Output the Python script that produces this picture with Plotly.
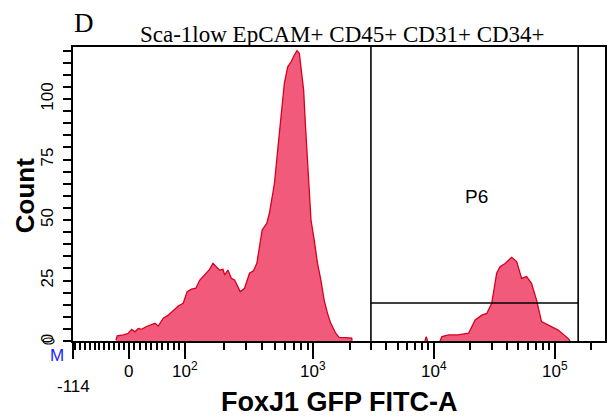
import numpy as np
import plotly.graph_objects as go

# ---------------- data ----------------
# histogram: x in display decades of the biexponential FITC-A axis
pop1_pos = [1.362, 1.373, 1.424, 1.465, 1.493, 1.520, 1.548, 1.575, 1.611, 1.644, 1.686, 1.713,
            1.755, 1.796, 1.837, 1.879, 1.920, 1.953, 1.989, 2.025, 2.058, 2.084, 2.112, 2.139,
            2.167, 2.195, 2.222, 2.250, 2.264, 2.291, 2.319, 2.346, 2.374, 2.393, 2.429, 2.470,
            2.503, 2.531, 2.553, 2.575, 2.613, 2.635, 2.663, 2.677, 2.704, 2.732, 2.759, 2.787,
            2.815, 2.842, 2.864, 2.883, 2.902, 2.919, 2.933, 2.947, 2.960, 2.980, 3.007, 3.034,
            3.062, 3.089, 3.117, 3.144, 3.185, 3.213, 3.268, 3.318, 3.320]
pop1_count = [0.4, 2.1, 2.5, 3.2, 4.8, 3.8, 5.2, 4.8, 5.9, 6.6, 7.3, 6.2,
              9.4, 10.7, 12.8, 14.5, 15.6, 20.4, 21.4, 21.8, 25.2, 26.6, 27.7, 29.6,
              32.1, 30.5, 29.3, 29.6, 27.3, 29.3, 25.9, 25.2, 22.4, 20.4, 21.8, 28.0,
              29.0, 32.1, 39.0, 45.9, 48.6, 52.8, 61.0, 65.2, 79.0, 92.7, 106.5, 113.3,
              115.4, 118.2, 120.0, 118.9, 110.6, 103.7, 90.0, 79.0, 65.2, 50.0, 41.7, 32.1,
              25.2, 16.9, 11.4, 7.3, 3.2, 1.5, 1.4, 1.2, 0.0]

spike_pos = [3.925, 3.936, 3.947]
spike_count = [0.0, 1.8, 0.0]

pop2_pos = [4.050, 4.066, 4.122, 4.200, 4.287, 4.342, 4.397, 4.438, 4.479, 4.520, 4.548,
            4.590, 4.644, 4.686, 4.727, 4.768, 4.809, 4.851, 4.892, 4.947, 5.030, 5.112, 5.129]
pop2_count = [0.0, 1.8, 2.5, 2.5, 3.2, 8.7, 10.7, 11.4, 15.6, 28.0, 30.7,
              32.0, 34.6, 32.8, 25.9, 26.6, 23.8, 16.9, 8.0, 6.6, 4.5, 1.1, 0.0]

# axis ticks (FITC-A values)
x_major = [-114, 0, 100, 1000, 10000, 100000]
x_major_text = ["-114", "0", "10<sup>2</sup>", "10<sup>3</sup>", "10<sup>4</sup>", "10<sup>5</sup>"]
x_minor = (list(range(-110, 0, 10)) + list(range(10, 100, 10)) + list(range(200, 1000, 100))
           + list(range(2000, 10000, 1000)) + list(range(20000, 100000, 10000)) + [200000])
x_max_value = 262143

y_major = [0, 25, 50, 75, 100]
y_minor = [v for v in range(5, 125, 5) if v not in y_major]
y_max = 121.5

# P6 interval gate
gate_lo, gate_hi, gate_level = 3000, 157000, 15.7

title = "Sca-1low EpCAM+ CD45+ CD31+ CD34+"
panel = "D"
x_title = "FoxJ1 GFP FITC-A"
y_title = "Count"
gate_name = "P6"


# biexponential-like display transform (value -> display decades)
def disp(v):
    v = np.asarray(v, dtype=float)
    lin = np.where(v < 0, 1.469 + v * 0.004061, 1.469 + v * 0.00465)
    logv = np.log10(np.clip(v, 1, None))
    mid = 1.934 + (logv - 2) * 1.066
    return np.where(v >= 1000, logv, np.where(v >= 100, mid, lin))


FILL = "rgb(242, 90, 124)"
LINE = "rgb(214, 0, 28)"
SANS = "Liberation Sans, Arial, sans-serif"
SERIF = "Liberation Serif, Times New Roman, serif"

fig = go.Figure()
for xs, ys in [(pop1_pos, pop1_count), (spike_pos, spike_count), (pop2_pos, pop2_count)]:
    fig.add_trace(go.Scatter(x=xs, y=ys, mode="lines", fill="tozeroy",
                             fillcolor=FILL, line=dict(color=LINE, width=1.3),
                             hoverinfo="skip", showlegend=False))

x_lo = float(disp(x_major[0]))
x_hi = float(disp(x_max_value))

fig.update_xaxes(range=[x_lo, x_hi], showgrid=False, zeroline=False,
                 showline=True, linecolor="black", linewidth=2, mirror=True,
                 ticks="outside", tickvals=list(disp(x_major)), ticklen=16, tickwidth=2,
                 tickcolor="black", showticklabels=False,
                 minor=dict(tickvals=list(disp(x_minor)), ticks="outside", ticklen=7,
                            tickwidth=1.6, tickcolor="black", showgrid=False))
fig.update_yaxes(range=[0, y_max], showgrid=False, zeroline=False,
                 showline=True, linecolor="black", linewidth=2, mirror=True,
                 ticks="outside", tickvals=y_major, ticklen=8, tickwidth=1.6, tickcolor="black",
                 tickangle=-90, ticklabelstandoff=3,
                 tickfont=dict(family=SANS, size=17, color="black"),
                 minor=dict(tickvals=y_minor, ticks="outside", ticklen=8, tickwidth=1.6,
                            tickcolor="black", showgrid=False))

# gate lines
for g in (gate_lo, gate_hi):
    gx = float(disp(g))
    fig.add_shape(type="line", xref="x", yref="paper", x0=gx, x1=gx, y0=0, y1=1,
                  line=dict(color="black", width=1.6))
fig.add_shape(type="line", xref="x", yref="y", x0=float(disp(gate_lo)), x1=float(disp(gate_hi)),
              y0=gate_level, y1=gate_level, line=dict(color="black", width=1.6))

W, H = 610, 418
ML, MR, MT, MB = 73, 3, 47, 77
PW, PH = W - ML - MR, H - MT - MB


def px(xp):
    return (xp - ML) / PW


def py(yp):
    return (H - MB - yp) / PH


# marker handle "M" at the left of the x axis
fig.add_shape(type="circle", xref="paper", yref="paper", x0=px(43), x1=px(54), y0=py(344), y1=py(338),
              line=dict(color="black", width=1.2))

ann = []
for v, t in zip(x_major, x_major_text):
    xd = float(disp(v))
    xpos = (xd - x_lo) / (x_hi - x_lo)
    if v == -114:
        ann.append(dict(x=xpos, y=py(386), xref="paper", yref="paper", text=t, showarrow=False,
                        xanchor="center", yanchor="middle", font=dict(family=SANS, size=17, color="black")))
    else:
        ann.append(dict(x=xpos, y=py(383), xref="paper", yref="paper", text=t, showarrow=False,
                        xanchor="center", yanchor="bottom", font=dict(family=SANS, size=17, color="black")))

ann += [
    dict(x=px(57), y=py(355), xref="paper", yref="paper", text="M", showarrow=False,
         xanchor="center", yanchor="middle", font=dict(family=SANS, size=17, color="rgb(30,30,255)")),
    dict(x=px(340), y=py(402), xref="paper", yref="paper", text="<b>" + x_title + "</b>", showarrow=False,
         xanchor="center", yanchor="middle", font=dict(family=SANS, size=27, color="black")),
    dict(x=px(25), y=py(196), xref="paper", yref="paper", text="<b>" + y_title + "</b>", showarrow=False,
         textangle=-90, xanchor="center", yanchor="middle", font=dict(family=SANS, size=26, color="black")),
    dict(x=px(344), y=py(35), xref="paper", yref="paper", text=title, showarrow=False,
         xanchor="center", yanchor="middle", font=dict(family=SERIF, size=23, color="black")),
    dict(x=px(84), y=py(23), xref="paper", yref="paper", text=panel, showarrow=False,
         xanchor="center", yanchor="middle", font=dict(family=SERIF, size=27, color="black")),
    dict(x=px(478.5), y=py(196.5), xref="paper", yref="paper", text=gate_name, showarrow=False,
         xanchor="center", yanchor="middle", font=dict(family=SANS, size=19, color="black")),
]

fig.update_layout(width=W, height=H, margin=dict(l=ML, r=MR, t=MT, b=MB),
                  paper_bgcolor="white", plot_bgcolor="white", annotations=ann)

fig.write_html("out.html")
